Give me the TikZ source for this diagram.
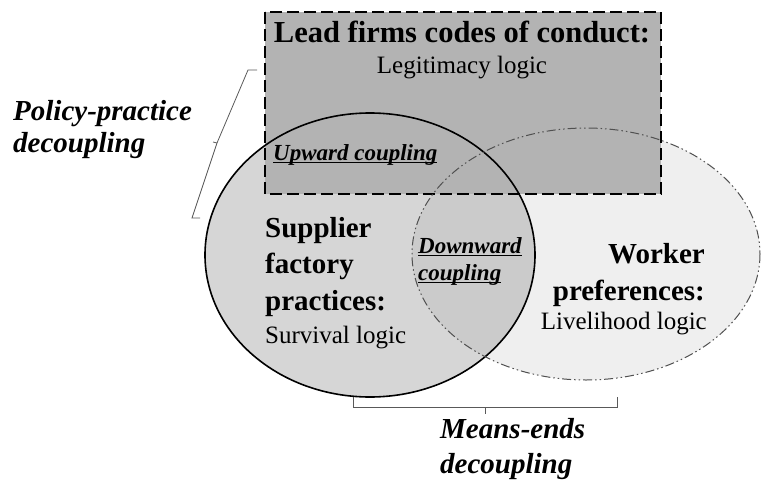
\documentclass[tikz,border=0pt]{standalone}
\usepackage{fontspec}
\setmainfont{Liberation Serif}
\usepackage{xcolor}

\definecolor{rectgray}{HTML}{B3B3B3}
\definecolor{supgray}{HTML}{D6D6D6}
\definecolor{workgray}{HTML}{EFEFEF}
\definecolor{overlapgray}{HTML}{CBCBCB}
\definecolor{edgegray}{HTML}{505050}

% underlined text, rule a little below the baseline
\newcommand{\ultxt}[1]{\setbox0\hbox{#1}\rlap{\rule[-3pt]{\wd0}{1.4pt}}\box0}

\tikzset{
  headtxt/.style={font=\fontsize{29}{36.5}\selectfont\bfseries, inner sep=0pt},
  logictxt/.style={font=\fontsize{25}{30}\selectfont, inner sep=0pt},
  coupletxt/.style={font=\fontsize{23}{27}\selectfont\bfseries\itshape, inner sep=0pt},
  decoupletxt/.style={font=\fontsize{29}{32}\selectfont\bfseries\itshape, inner sep=0pt},
  bracket/.style={draw=black!65, line width=0.8pt},
}

\begin{document}
\begin{tikzpicture}[x=1pt,y=-1pt]
    \useasboundingbox (0,0) rectangle (761,485);

    % fills
    \fill[workgray] (586,254) ellipse [x radius=174, y radius=126];
    \fill[supgray] (370,255) ellipse [x radius=165, y radius=142];
    \begin{scope}
        \clip (370,255) ellipse [x radius=165, y radius=142];
        \fill[overlapgray] (586,254) ellipse [x radius=174, y radius=126];
    \end{scope}
    \fill[rectgray] (265,12) rectangle (661,194);

    % outlines
    \draw[line width=2pt, dash pattern=on 12pt off 5pt] (265,12) rectangle (661,194);
    \draw[line width=1.6pt] (370,255) ellipse [x radius=165, y radius=142];
    \draw[edgegray, line width=1pt, dash pattern=on 9pt off 3pt on 1.5pt off 3pt on 1.5pt off 3pt]
        (586,254) ellipse [x radius=174, y radius=126];

    % texts (multi-line nodes sit on the baseline of their last line)
    \node[headtxt, anchor=base, font=\fontsize{30.5}{36}\selectfont\bfseries] (lead) at (462,42) {Lead firms codes of conduct:};
    \node[logictxt, anchor=base] (legit) at (462,73) {Legitimacy logic};

    \node[decoupletxt, anchor=base west, align=left] (policy) at (13,152) {Policy-practice\\decoupling};
    \node[coupletxt, anchor=base west] (upward) at (273,160) {\ultxt{Upward coupling}};

    \node[headtxt, anchor=base west, align=left] (supplier) at (265,310) {Supplier\\factory\\practices:};
    \node[logictxt, anchor=base west] (survival) at (265,343) {Survival logic};
    \node[coupletxt, anchor=base west, align=left] (downward) at (418,280) {\ultxt{Downward}\\\ultxt{coupling}};

    \node[headtxt, anchor=base east, align=right] (worker) at (705,300) {Worker\\preferences:};
    \node[logictxt, anchor=base east] (livelihood) at (707,329) {Livelihood logic};

    \node[decoupletxt, anchor=base west, align=left, font=\fontsize{29}{35}\selectfont\bfseries\itshape] (means) at (440,473) {Means-ends\\decoupling};

    % brackets
    \coordinate (pptop) at (257,70);
    \coordinate (ppbot) at (200,218);
    \draw[bracket] (pptop) -- (248,70) -- (217,143) -- (192,218) -- (ppbot);
    \draw[bracket] (217,143) -- (213,142);

    \coordinate (meleft) at (353,397);
    \coordinate (meright) at (617,397);
    \draw[bracket] (meleft) -- (353,407) -- (617,407) -- (meright);
    \draw[bracket] (485,407) -- (485,414);
\end{tikzpicture}
\end{document}
